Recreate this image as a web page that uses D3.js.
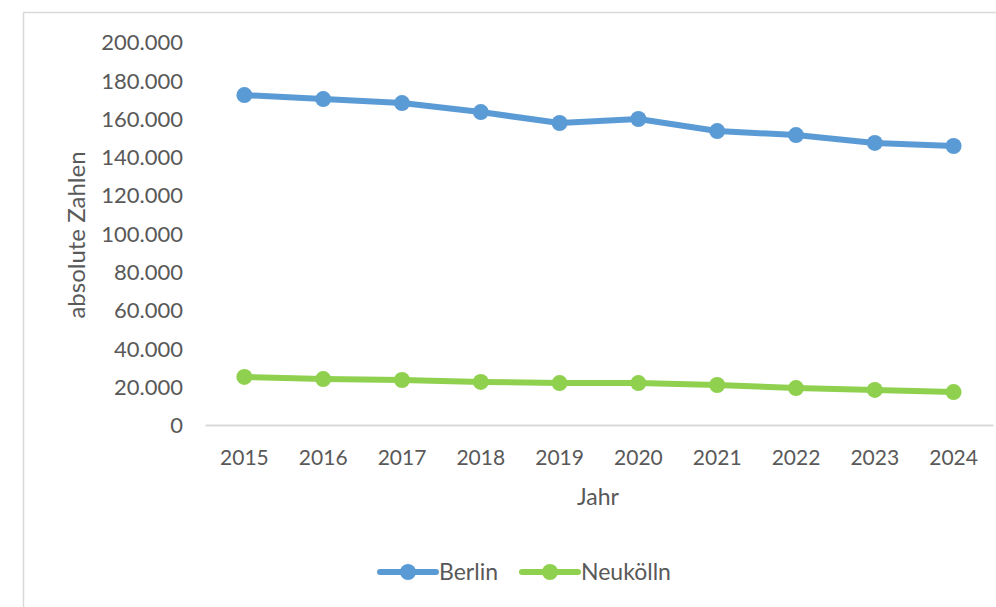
<!DOCTYPE html>
<html>
<head>
<meta charset="utf-8">
<script src="https://cdn.jsdelivr.net/npm/d3@7"></script>
<style>
  body { margin: 0; background: #fff; }
  text { font-family: Lato, "Open Sans", sans-serif; fill: #595959; }
</style>
</head>
<body>
<div id="chart"></div>
<script>
// data
const years = ["2015", "2016", "2017", "2018", "2019", "2020", "2021", "2022", "2023", "2024"];
const berlin = [172300, 170200, 168100, 163400, 157700, 159800, 153500, 151400, 147300, 145700];
const neukoelln = [25100, 24000, 23500, 22500, 21900, 21900, 20900, 19300, 18300, 17200];
const yTicks = [0, 20000, 40000, 60000, 80000, 100000, 120000, 140000, 160000, 180000, 200000];
const seriesNames = ["Berlin", "Neukölln"];
const colors = ["#5B9BD5", "#8FD14F"];

const width = 996, height = 607;

const svg = d3.select("#chart").append("svg")
    .attr("width", width).attr("height", height);

svg.append("rect").attr("width", width).attr("height", height).attr("fill", "#fff");

// chart area border (runs off the right/bottom edge)
svg.append("rect")
    .attr("x", 23.5).attr("y", 12.5)
    .attr("width", 1000).attr("height", 700)
    .attr("fill", "none").attr("stroke", "#D9D9D9").attr("stroke-width", 1.5);

const x = d3.scaleBand().domain(years).range([205, 993]);
const y = d3.scaleLinear().domain([0, 200000]).range([425, 42]);

const fmt = d => d3.format(",")(d).replace(/,/g, ".");

// y axis labels (no axis line)
const yAxis = svg.append("g").attr("transform", "translate(183,0)")
    .call(d3.axisLeft(y).tickValues(yTicks).tickFormat(fmt).tickSize(0).tickPadding(0));
yAxis.select(".domain").remove();
yAxis.selectAll("text").style("font-size", "22px").attr("dy", "0.35em").attr("fill", "#595959");

// x axis
const xAxis = svg.append("g").attr("transform", "translate(0,425)")
    .call(d3.axisBottom(x).tickSize(0).tickPadding(0));
xAxis.select(".domain").attr("stroke", "#D9D9D9").attr("stroke-width", 2);
xAxis.selectAll("text").style("font-size", "21px").attr("y", 40).attr("dy", 0).attr("fill", "#595959");

// axis titles
svg.append("text")
    .attr("transform", "translate(85,235) rotate(-90)")
    .attr("text-anchor", "middle")
    .style("font-size", "24px")
    .text("absolute Zahlen");

svg.append("text")
    .attr("x", 598).attr("y", 505)
    .attr("text-anchor", "middle")
    .style("font-size", "23px")
    .text("Jahr");

// lines
const series = [berlin, neukoelln];
const line = d3.line()
    .x((d, i) => x(years[i]) + x.bandwidth() / 2)
    .y(d => y(d));

series.forEach((vals, s) => {
    svg.append("path")
        .datum(vals)
        .attr("d", line)
        .attr("fill", "none")
        .attr("stroke", colors[s])
        .attr("stroke-width", 6)
        .attr("stroke-linejoin", "round")
        .attr("stroke-linecap", "round");
    svg.selectAll(".pt" + s)
        .data(vals)
        .enter().append("circle")
        .attr("cx", (d, i) => x(years[i]) + x.bandwidth() / 2)
        .attr("cy", d => y(d))
        .attr("r", 8)
        .attr("fill", colors[s]);
});

// legend
const legendX = [380, 522];
seriesNames.forEach((name, s) => {
    const g = svg.append("g").attr("transform", "translate(" + legendX[s] + ",572)");
    g.append("line").attr("x1", 0).attr("x2", 56).attr("y1", 0).attr("y2", 0)
        .attr("stroke", colors[s]).attr("stroke-width", 6).attr("stroke-linecap", "round");
    g.append("circle").attr("cx", 28).attr("cy", 0).attr("r", 8).attr("fill", colors[s]);
    g.append("text").attr("x", 59).attr("y", 0).attr("dy", "0.35em")
        .style("font-size", "23px").text(name);
});
</script>
</body>
</html>
